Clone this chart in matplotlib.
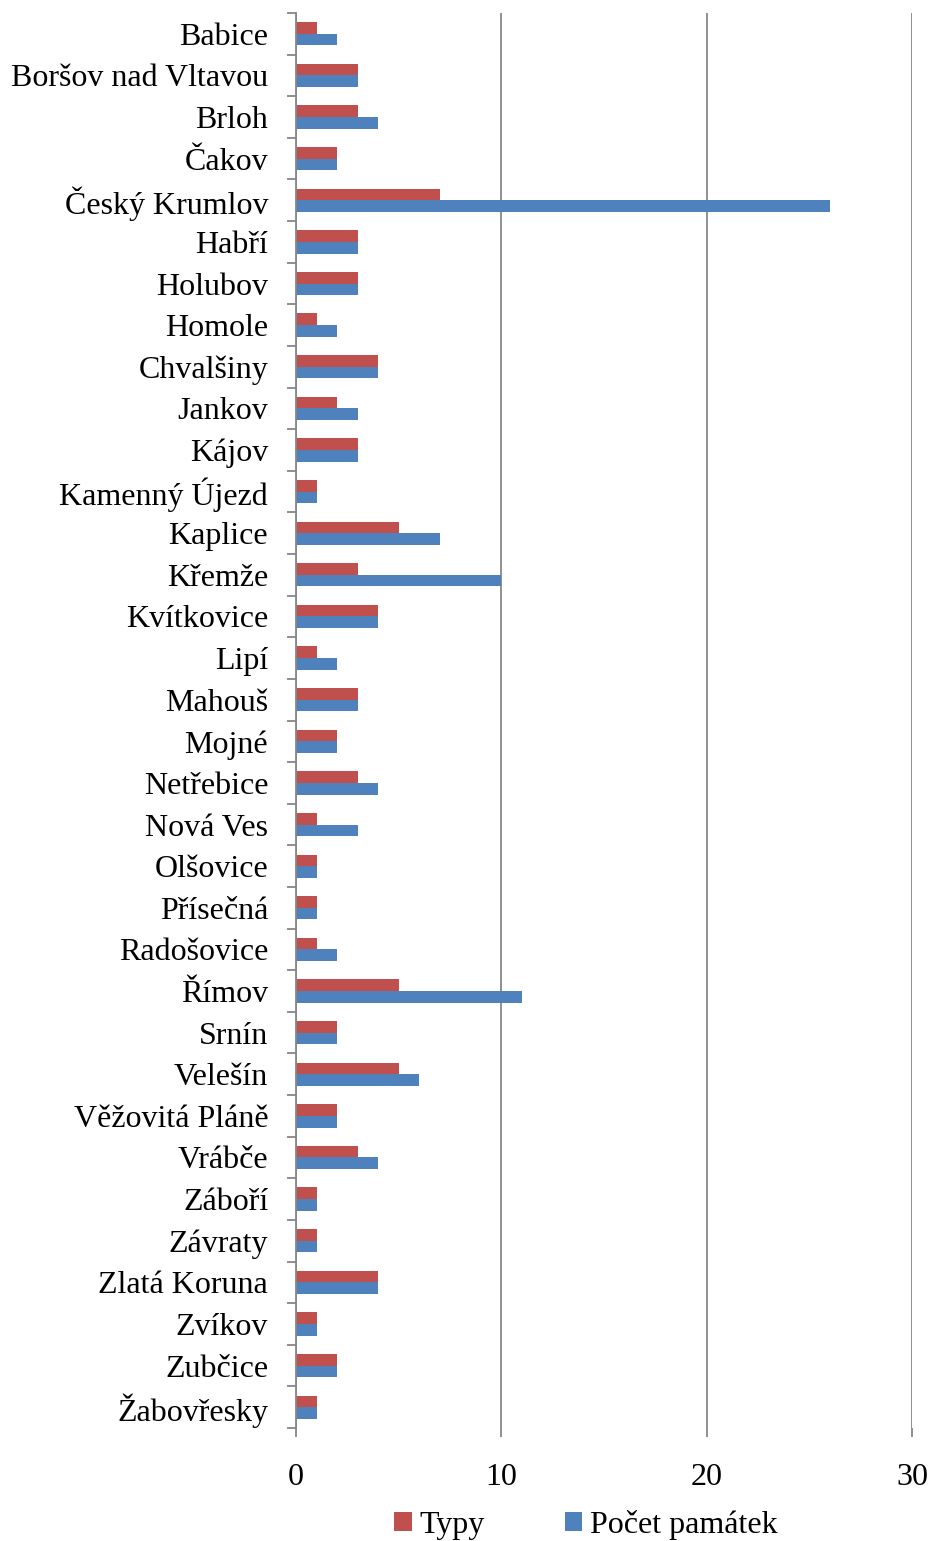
import matplotlib
matplotlib.use("Agg")
import matplotlib.pyplot as plt
from matplotlib.patches import Patch
import numpy as np

categories = ["Babice", "Boršov nad Vltavou", "Brloh", "Čakov", "Český Krumlov", "Habří",
              "Holubov", "Homole", "Chvalšiny", "Jankov", "Kájov", "Kamenný Újezd", "Kaplice",
              "Křemže", "Kvítkovice", "Lipí", "Mahouš", "Mojné", "Netřebice", "Nová Ves",
              "Olšovice", "Přísečná", "Radošovice", "Římov", "Srnín", "Velešín",
              "Věžovitá Pláně", "Vrábče", "Záboří", "Závraty", "Zlatá Koruna", "Zvíkov",
              "Zubčice", "Žabovřesky"]
typy = [1, 3, 3, 2, 7, 3, 3, 1, 4, 2, 3, 1, 5, 3, 4, 1, 3, 2, 3, 1, 1, 1, 1, 5, 2, 5, 2, 3, 1, 1, 4, 1, 2, 1]
pocet = [2, 3, 4, 2, 26, 3, 3, 2, 4, 3, 3, 1, 7, 10, 4, 2, 3, 2, 4, 3, 1, 1, 2, 11, 2, 6, 2, 4, 1, 1, 4, 1, 2, 1]
xticks = [0, 10, 20, 30]
series_names = ["Typy", "Počet památek"]

plt.rcParams['font.family'] = ['Liberation Serif', 'DejaVu Serif']
FS = 23
RED = "#C0504D"
BLUE = "#4F81BD"
GRID = "#878787"

fig = plt.figure(figsize=(9.31, 15.41), dpi=100)
ax = fig.add_axes([296/931, 1 - 1428/1541, (912-296)/931, (1428-13)/1541])

y = np.arange(len(categories))
h = 0.28
ax.barh(y - h/2, typy, height=h, color=RED, edgecolor="none", zorder=3)
ax.barh(y + h/2, pocet, height=h, color=BLUE, edgecolor="none", zorder=3)

ax.set_ylim(len(categories) - 0.5, -0.5)
ax.set_xlim(0, 30)
ax.set_xticks(xticks)
ax.set_xticklabels([str(t) for t in xticks], fontsize=FS)
ax.set_yticks(y)
ax.set_yticklabels(categories, fontsize=FS)
ax.set_yticks(np.arange(-0.5, len(categories), 1.0), minor=True)

ax.tick_params(axis='y', which='major', length=0, pad=20)
ax.tick_params(axis='y', which='minor', length=6.5, width=1.3, color=GRID, direction='out')
ax.tick_params(axis='x', which='major', length=6.5, width=1.3, color=GRID, direction='out', pad=19)

ax.grid(axis='x', color=GRID, linewidth=1.3, zorder=0)
for s in ['top', 'right', 'bottom']:
    ax.spines[s].set_visible(False)
ax.spines['left'].set_color(GRID)
ax.spines['left'].set_linewidth(1.3)
ax.spines['left'].set_zorder(4)

handles = [Patch(facecolor=RED, edgecolor='none'), Patch(facecolor=BLUE, edgecolor='none')]
fig.legend(handles, series_names, loc='center', bbox_to_anchor=(586/931, 1 - 1525/1541),
           ncol=2, frameon=False, fontsize=FS, handlelength=0.55, handleheight=0.55,
           handletextpad=0.25, columnspacing=2.5)

fig.savefig("out.png", dpi=100)
